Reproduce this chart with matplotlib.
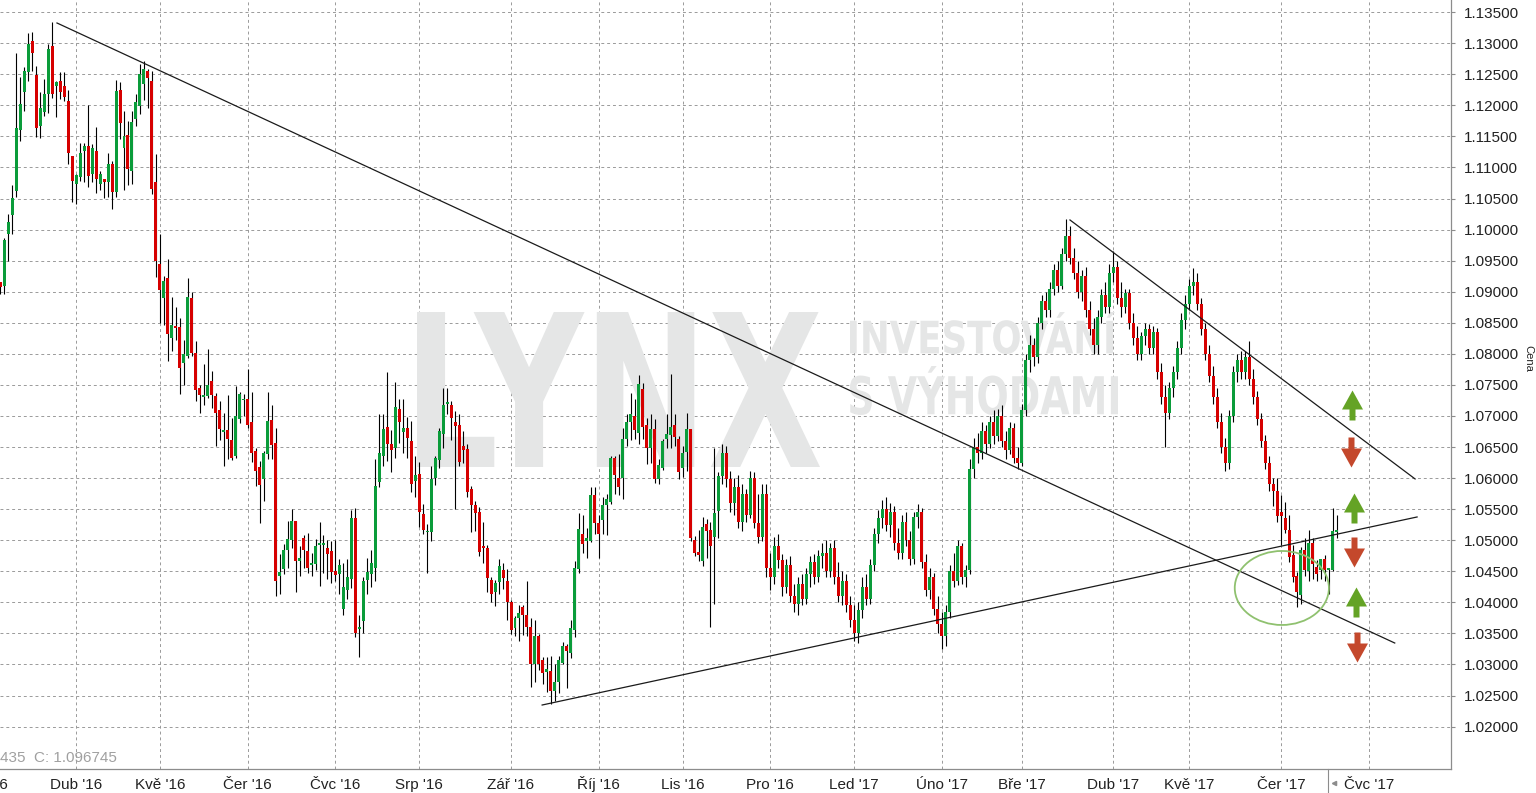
import numpy as np
import matplotlib
matplotlib.use("Agg")
import matplotlib.pyplot as plt
from matplotlib.path import Path
from matplotlib.patches import Ellipse, PathPatch
from matplotlib.textpath import TextPath
from matplotlib.font_manager import FontProperties
from matplotlib.transforms import Affine2D
from matplotlib.lines import Line2D

# daily candles (index 0 = first visible day)
opens = [
    1.0915, 1.0910, 1.0993, 1.1023, 1.1062, 1.1160, 1.1222, 1.1254, 1.1303, 1.1249,
    1.1166, 1.1190, 1.1219, 1.1295, 1.1231, 1.1239, 1.1231, 1.1207, 1.1119, 1.1074,
    1.1084, 1.1127, 1.1135, 1.1089, 1.1127, 1.1074, 1.1082, 1.1076, 1.1105, 1.1060,
    1.1225, 1.1131, 1.1153, 1.1095, 1.1178, 1.1199, 1.1234, 1.1255, 1.1239, 1.1076,
    1.0945, 1.0890, 1.0922, 1.0825, 1.0845, 1.0843, 1.0785, 1.0797, 1.0890, 1.0802,
    1.0745, 1.0730, 1.0732, 1.0757, 1.0732, 1.0710, 1.0674, 1.0677, 1.0661, 1.0635,
    1.0695, 1.0725, 1.0728, 1.0690, 1.0643, 1.0618, 1.0599, 1.0638, 1.0694, 1.0656,
    1.0443, 1.0454, 1.0484, 1.0500, 1.0531, 1.0467, 1.0503, 1.0482, 1.0460, 1.0461,
    1.0492, 1.0492, 1.0488, 1.0483, 1.0451, 1.0445, 1.0390, 1.0420, 1.0437, 1.0535,
    1.0357, 1.0370, 1.0436, 1.0446, 1.0456, 1.0593, 1.0635, 1.0683, 1.0655, 1.0649,
    1.0712, 1.0674, 1.0681, 1.0660, 1.0596, 1.0606, 1.0542, 1.0513, 1.0514, 1.0600,
    1.0629, 1.0671, 1.0720, 1.0717, 1.0691, 1.0686, 1.0651, 1.0647, 1.0582, 1.0557,
    1.0545, 1.0490, 1.0487, 1.0436, 1.0416, 1.0432, 1.0452, 1.0435, 1.0400, 1.0359,
    1.0374, 1.0392, 1.0380, 1.0361, 1.0301, 1.0345, 1.0307, 1.0288, 1.0290, 1.0257,
    1.0271, 1.0302, 1.0329, 1.0319, 1.0356, 1.0453, 1.0510, 1.0499, 1.0499, 1.0572,
    1.0527, 1.0532, 1.0556, 1.0561, 1.0632, 1.0600, 1.0600, 1.0663, 1.0690, 1.0700,
    1.0673, 1.0743, 1.0685, 1.0649, 1.0679, 1.0599, 1.0617, 1.0663, 1.0670, 1.0685,
    1.0663, 1.0616, 1.0642, 1.0679, 1.0501, 1.0481, 1.0467, 1.0526, 1.0517, 1.0505,
    1.0547, 1.0603, 1.0640, 1.0598, 1.0560, 1.0585, 1.0530, 1.0575, 1.0540, 1.0600,
    1.0528, 1.0505, 1.0575, 1.0455, 1.0440, 1.0490, 1.0468, 1.0425, 1.0460, 1.0410,
    1.0398, 1.0430, 1.0405, 1.0445, 1.0465, 1.0440, 1.0475, 1.0480, 1.0450, 1.0488,
    1.0440, 1.0410, 1.0435, 1.0395, 1.0372, 1.0350, 1.0388, 1.0425, 1.0405, 1.0460,
    1.0510, 1.0535, 1.0550, 1.0525, 1.0545, 1.0495, 1.0480, 1.0530, 1.0500, 1.0470,
    1.0538, 1.0545, 1.0465, 1.0420, 1.0440, 1.0390, 1.0365, 1.0345, 1.0385, 1.0450,
    1.0435, 1.0490, 1.0440, 1.0452, 1.0615, 1.0650, 1.0640, 1.0675, 1.0655, 1.0690,
    1.0668, 1.0700, 1.0660, 1.0645, 1.0680, 1.0632, 1.0625, 1.0710, 1.0790, 1.0815,
    1.0795, 1.0850, 1.0885, 1.0870, 1.0905, 1.0935, 1.0910, 1.0960, 1.0990, 1.0955,
    1.0930, 1.0900, 1.0925, 1.0870, 1.0840, 1.0815, 1.0860, 1.0895, 1.0875, 1.0930,
    1.0940, 1.0890, 1.0875, 1.0898, 1.0850, 1.0825, 1.0800, 1.0828, 1.0840, 1.0810,
    1.0835, 1.0770, 1.0730, 1.0705, 1.0745, 1.0770, 1.0810, 1.0855, 1.0880, 1.0910,
    1.0915, 1.0880, 1.0840, 1.0800, 1.0765, 1.0730, 1.0690, 1.0650, 1.0625, 1.0700,
    1.0770, 1.0790, 1.0770, 1.0795, 1.0760, 1.0730, 1.0695, 1.0660, 1.0625, 1.0590,
    1.0580, 1.0545, 1.0536, 1.0516, 1.0476, 1.0443, 1.0411, 1.0484, 1.0450, 1.0496,
    1.0457, 1.0452, 1.0470, 1.0452, 1.0452, 1.0513,
]
highs = [
    1.0915, 1.0987, 1.1025, 1.1071, 1.1285, 1.1245, 1.1262, 1.1317, 1.1318, 1.1263,
    1.1221, 1.1242, 1.1298, 1.1334, 1.1239, 1.1253, 1.1253, 1.1224, 1.1119, 1.1089,
    1.1140, 1.1140, 1.1201, 1.1137, 1.1165, 1.1095, 1.1082, 1.1124, 1.1111, 1.1241,
    1.1237, 1.1191, 1.1175, 1.1191, 1.1218, 1.1267, 1.1271, 1.1258, 1.1255, 1.1121,
    1.0993, 1.0925, 1.0952, 1.0891, 1.0875, 1.0857, 1.0823, 1.0922, 1.0899, 1.0820,
    1.0750, 1.0784, 1.0807, 1.0772, 1.0737, 1.0724, 1.0705, 1.0734, 1.0697, 1.0748,
    1.0738, 1.0736, 1.0776, 1.0739, 1.0649, 1.0627, 1.0643, 1.0739, 1.0717, 1.0681,
    1.0478, 1.0494, 1.0531, 1.0550, 1.0531, 1.0491, 1.0509, 1.0511, 1.0480, 1.0502,
    1.0529, 1.0508, 1.0501, 1.0499, 1.0500, 1.0470, 1.0463, 1.0470, 1.0548, 1.0552,
    1.0379, 1.0440, 1.0472, 1.0485, 1.0631, 1.0703, 1.0703, 1.0771, 1.0678, 1.0755,
    1.0728, 1.0728, 1.0699, 1.0692, 1.0636, 1.0626, 1.0558, 1.0526, 1.0619, 1.0636,
    1.0681, 1.0745, 1.0745, 1.0724, 1.0708, 1.0703, 1.0676, 1.0655, 1.0588, 1.0563,
    1.0554, 1.0529, 1.0492, 1.0440, 1.0436, 1.0469, 1.0464, 1.0454, 1.0403, 1.0378,
    1.0395, 1.0395, 1.0435, 1.0375, 1.0371, 1.0349, 1.0312, 1.0312, 1.0314, 1.0301,
    1.0313, 1.0336, 1.0333, 1.0372, 1.0467, 1.0543, 1.0540, 1.0519, 1.0585, 1.0585,
    1.0540, 1.0570, 1.0574, 1.0635, 1.0636, 1.0639, 1.0681, 1.0703, 1.0737, 1.0728,
    1.0766, 1.0753, 1.0697, 1.0703, 1.0695, 1.0631, 1.0663, 1.0703, 1.0768, 1.0703,
    1.0668, 1.0651, 1.0704, 1.0679, 1.0507, 1.0516, 1.0537, 1.0534, 1.0529, 1.0649,
    1.0609, 1.0655, 1.0652, 1.0612, 1.0600, 1.0605, 1.0590, 1.0582, 1.0612, 1.0610,
    1.0575, 1.0590, 1.0590, 1.0480, 1.0505, 1.0510, 1.0478, 1.0470, 1.0475, 1.0430,
    1.0440, 1.0445, 1.0455, 1.0475, 1.0478, 1.0485, 1.0495, 1.0500, 1.0495, 1.0500,
    1.0465, 1.0450, 1.0445, 1.0410, 1.0395, 1.0400, 1.0440, 1.0445, 1.0470, 1.0520,
    1.0548, 1.0565, 1.0570, 1.0560, 1.0555, 1.0520, 1.0540, 1.0545, 1.0515, 1.0545,
    1.0558, 1.0552, 1.0478, 1.0455, 1.0448, 1.0410, 1.0385, 1.0395, 1.0460, 1.0480,
    1.0500, 1.0495, 1.0460, 1.0630, 1.0665, 1.0672, 1.0690, 1.0685, 1.0700, 1.0710,
    1.0712, 1.0718, 1.0675, 1.0690, 1.0688, 1.0650, 1.0720, 1.0800, 1.0830, 1.0825,
    1.0860, 1.0895, 1.0900, 1.0915, 1.0945, 1.0950, 1.0970, 1.1017, 1.1005, 1.0970,
    1.0950, 1.0935, 1.0940, 1.0885, 1.0858, 1.0870, 1.0905, 1.0915, 1.0945, 1.0965,
    1.0950, 1.0915, 1.0905, 1.0905, 1.0865, 1.0845, 1.0835, 1.0850, 1.0848, 1.0845,
    1.0842, 1.0785, 1.0750, 1.0755, 1.0780, 1.0820, 1.0865, 1.0895, 1.0920, 1.0938,
    1.0930, 1.0890, 1.0850, 1.0815, 1.0780, 1.0745, 1.0705, 1.0665, 1.0710, 1.0780,
    1.0800, 1.0805, 1.0805, 1.0820, 1.0775, 1.0740, 1.0705, 1.0670, 1.0635, 1.0600,
    1.0600, 1.0573, 1.0562, 1.0540, 1.0492, 1.0449, 1.0489, 1.0503, 1.0516, 1.0503,
    1.0468, 1.0470, 1.0476, 1.0455, 1.0552, 1.0540,
]
lows = [
    1.0897, 1.0897, 1.0950, 1.0993, 1.1052, 1.1143, 1.1191, 1.1239, 1.1255, 1.1149,
    1.1148, 1.1183, 1.1188, 1.1212, 1.1181, 1.1210, 1.1207, 1.1106, 1.1044, 1.1042,
    1.1079, 1.1076, 1.1069, 1.1076, 1.1059, 1.1063, 1.1051, 1.1052, 1.1033, 1.1052,
    1.1146, 1.1064, 1.1071, 1.1074, 1.1167, 1.1186, 1.1209, 1.1196, 1.1057, 1.0924,
    1.0849, 1.0846, 1.0789, 1.0804, 1.0822, 1.0735, 1.0750, 1.0793, 1.0796, 1.0724,
    1.0705, 1.0718, 1.0729, 1.0713, 1.0651, 1.0662, 1.0619, 1.0631, 1.0629, 1.0633,
    1.0689, 1.0700, 1.0681, 1.0626, 1.0587, 1.0527, 1.0563, 1.0630, 1.0631, 1.0410,
    1.0413, 1.0445, 1.0456, 1.0488, 1.0416, 1.0442, 1.0456, 1.0448, 1.0443, 1.0452,
    1.0427, 1.0448, 1.0437, 1.0431, 1.0435, 1.0413, 1.0380, 1.0405, 1.0423, 1.0344,
    1.0312, 1.0351, 1.0414, 1.0424, 1.0435, 1.0585, 1.0620, 1.0628, 1.0610, 1.0633,
    1.0656, 1.0641, 1.0632, 1.0578, 1.0569, 1.0521, 1.0510, 1.0448, 1.0499, 1.0589,
    1.0617, 1.0649, 1.0703, 1.0661, 1.0550, 1.0619, 1.0625, 1.0569, 1.0513, 1.0515,
    1.0475, 1.0464, 1.0416, 1.0400, 1.0394, 1.0414, 1.0422, 1.0371, 1.0349, 1.0346,
    1.0338, 1.0348, 1.0345, 1.0264, 1.0272, 1.0291, 1.0269, 1.0256, 1.0236, 1.0241,
    1.0254, 1.0301, 1.0262, 1.0311, 1.0344, 1.0448, 1.0480, 1.0471, 1.0497, 1.0510,
    1.0471, 1.0510, 1.0509, 1.0559, 1.0575, 1.0572, 1.0567, 1.0651, 1.0661, 1.0663,
    1.0655, 1.0663, 1.0623, 1.0624, 1.0592, 1.0590, 1.0613, 1.0649, 1.0649, 1.0651,
    1.0598, 1.0601, 1.0612, 1.0499, 1.0475, 1.0467, 1.0458, 1.0471, 1.0361, 1.0397,
    1.0504, 1.0590, 1.0585, 1.0545, 1.0540, 1.0520, 1.0515, 1.0530, 1.0535, 1.0520,
    1.0495, 1.0498, 1.0440, 1.0420, 1.0430, 1.0455, 1.0410, 1.0415, 1.0400, 1.0385,
    1.0380, 1.0395, 1.0398, 1.0425, 1.0430, 1.0432, 1.0455, 1.0440, 1.0440, 1.0430,
    1.0400, 1.0395, 1.0385, 1.0360, 1.0338, 1.0335, 1.0375, 1.0395, 1.0398, 1.0450,
    1.0495, 1.0520, 1.0515, 1.0505, 1.0485, 1.0470, 1.0470, 1.0490, 1.0460, 1.0462,
    1.0520, 1.0455, 1.0410, 1.0405, 1.0380, 1.0350, 1.0325, 1.0330, 1.0375, 1.0425,
    1.0428, 1.0430, 1.0425, 1.0445, 1.0600, 1.0625, 1.0630, 1.0640, 1.0648, 1.0655,
    1.0660, 1.0650, 1.0630, 1.0638, 1.0625, 1.0615, 1.0620, 1.0700, 1.0770, 1.0780,
    1.0785, 1.0840, 1.0860, 1.0860, 1.0895, 1.0900, 1.0905, 1.0950, 1.0945, 1.0920,
    1.0890, 1.0885, 1.0860, 1.0830, 1.0800, 1.0800, 1.0850, 1.0865, 1.0865, 1.0915,
    1.0880, 1.0860, 1.0865, 1.0840, 1.0815, 1.0790, 1.0790, 1.0815, 1.0800, 1.0800,
    1.0760, 1.0720, 1.0650, 1.0695, 1.0730, 1.0760, 1.0800, 1.0840, 1.0870, 1.0895,
    1.0870, 1.0830, 1.0790, 1.0755, 1.0720, 1.0680, 1.0640, 1.0612, 1.0615, 1.0690,
    1.0755, 1.0760, 1.0760, 1.0750, 1.0720, 1.0685, 1.0650, 1.0615, 1.0580, 1.0555,
    1.0529, 1.0492, 1.0511, 1.0465, 1.0433, 1.0392, 1.0398, 1.0443, 1.0435, 1.0438,
    1.0435, 1.0438, 1.0435, 1.0414, 1.0450, 1.0503,
]
closes = [
    1.0908, 1.0984, 1.1012, 1.1051, 1.1163, 1.1202, 1.1255, 1.1299, 1.1284, 1.1164,
    1.1195, 1.1218, 1.1290, 1.1219, 1.1238, 1.1222, 1.1213, 1.1124, 1.1079, 1.1088,
    1.1123, 1.1135, 1.1087, 1.1131, 1.1081, 1.1089, 1.1076, 1.1106, 1.1060, 1.1223,
    1.1171, 1.1151, 1.1097, 1.1174, 1.1206, 1.1250, 1.1258, 1.1244, 1.1065, 1.0950,
    1.0902, 1.0918, 1.0832, 1.0846, 1.0842, 1.0778, 1.0799, 1.0891, 1.0802, 1.0741,
    1.0734, 1.0734, 1.0750, 1.0733, 1.0705, 1.0679, 1.0677, 1.0663, 1.0632, 1.0700,
    1.0736, 1.0727, 1.0685, 1.0640, 1.0611, 1.0589, 1.0640, 1.0692, 1.0654, 1.0435,
    1.0449, 1.0484, 1.0502, 1.0531, 1.0467, 1.0471, 1.0484, 1.0456, 1.0464, 1.0491,
    1.0496, 1.0496, 1.0477, 1.0449, 1.0444, 1.0460, 1.0424, 1.0440, 1.0535, 1.0350,
    1.0360, 1.0435, 1.0449, 1.0463, 1.0588, 1.0640, 1.0679, 1.0655, 1.0646, 1.0715,
    1.0691, 1.0680, 1.0664, 1.0591, 1.0605, 1.0545, 1.0517, 1.0514, 1.0599, 1.0633,
    1.0676, 1.0717, 1.0723, 1.0697, 1.0684, 1.0626, 1.0645, 1.0578, 1.0557, 1.0543,
    1.0481, 1.0487, 1.0439, 1.0414, 1.0431, 1.0458, 1.0439, 1.0400, 1.0355, 1.0374,
    1.0383, 1.0379, 1.0361, 1.0301, 1.0345, 1.0301, 1.0287, 1.0292, 1.0258, 1.0271,
    1.0307, 1.0329, 1.0322, 1.0359, 1.0456, 1.0518, 1.0494, 1.0504, 1.0573, 1.0528,
    1.0510, 1.0556, 1.0566, 1.0632, 1.0605, 1.0586, 1.0663, 1.0690, 1.0703, 1.0677,
    1.0751, 1.0683, 1.0648, 1.0679, 1.0599, 1.0621, 1.0660, 1.0671, 1.0682, 1.0666,
    1.0609, 1.0640, 1.0679, 1.0503, 1.0480, 1.0476, 1.0521, 1.0515, 1.0491, 1.0544,
    1.0603, 1.0640, 1.0598, 1.0560, 1.0585, 1.0530, 1.0575, 1.0540, 1.0600, 1.0528,
    1.0505, 1.0575, 1.0455, 1.0440, 1.0490, 1.0468, 1.0425, 1.0460, 1.0410, 1.0398,
    1.0430, 1.0405, 1.0445, 1.0465, 1.0440, 1.0475, 1.0480, 1.0450, 1.0488, 1.0440,
    1.0410, 1.0435, 1.0395, 1.0372, 1.0350, 1.0388, 1.0425, 1.0405, 1.0460, 1.0510,
    1.0535, 1.0550, 1.0525, 1.0545, 1.0495, 1.0480, 1.0530, 1.0500, 1.0470, 1.0538,
    1.0545, 1.0465, 1.0420, 1.0440, 1.0390, 1.0365, 1.0345, 1.0385, 1.0450, 1.0435,
    1.0490, 1.0440, 1.0452, 1.0615, 1.0650, 1.0640, 1.0675, 1.0655, 1.0690, 1.0668,
    1.0700, 1.0660, 1.0645, 1.0680, 1.0632, 1.0625, 1.0710, 1.0790, 1.0815, 1.0795,
    1.0850, 1.0885, 1.0870, 1.0905, 1.0935, 1.0910, 1.0960, 1.0990, 1.0955, 1.0930,
    1.0900, 1.0925, 1.0870, 1.0840, 1.0815, 1.0860, 1.0895, 1.0875, 1.0930, 1.0940,
    1.0890, 1.0875, 1.0898, 1.0850, 1.0825, 1.0800, 1.0828, 1.0840, 1.0810, 1.0835,
    1.0770, 1.0730, 1.0705, 1.0745, 1.0770, 1.0810, 1.0855, 1.0880, 1.0910, 1.0915,
    1.0880, 1.0840, 1.0800, 1.0765, 1.0730, 1.0690, 1.0650, 1.0625, 1.0700, 1.0770,
    1.0790, 1.0770, 1.0795, 1.0760, 1.0730, 1.0695, 1.0660, 1.0625, 1.0590, 1.0580,
    1.0539, 1.0539, 1.0516, 1.0473, 1.0441, 1.0417, 1.0484, 1.0452, 1.0495, 1.0461,
    1.0445, 1.0469, 1.0452, 1.0455, 1.0515, 1.0516,
]

# month axis
month_labels = ["Dub '16", "Kvě '16", "Čer '16", "Čvc '16", "Srp '16", "Zář '16",
                "Říj '16", "Lis '16", "Pro '16", "Led '17", "Úno '17", "Bře '17",
                "Dub '17", "Kvě '17", "Čer '17", "Čvc '17"]
days_before_april = 19
trading_days = [21, 22, 22, 21, 23, 22, 21, 22, 21, 22, 20, 23, 19, 23, 22]

# drawn trend lines: (day, price) pairs
trend_lines = [
    [(14.2, 1.13326), (349.5, 1.03345)],
    [(135.8, 1.02347), (355.1, 1.05374)],
    [(268.1, 1.10155), (354.6, 1.05986)],
]
circle_center = (321.2, 1.04231)
circle_size = (23.6, 0.01191)
up_arrows_x = [338.8, 339.3, 339.8]
up_arrows_y = [1.07177, 1.05519, 1.04006]
down_arrows_x = [338.6, 339.4, 340.0]
down_arrows_y = [1.06420, 1.04811, 1.03281]

GREEN = "#0a9c3a"
RED = "#d60000"
GRID = "#9a9a9a"
W, H = 1536, 793

fig = plt.figure(figsize=(W / 100, H / 100), dpi=100)
ax = fig.add_axes([0, 24 / H, 1451 / W, 769 / H])

o = np.array(opens)
hi = np.array(highs)
lo = np.array(lows)
c = np.array(closes)
idx = np.arange(len(c))
up = c >= o

# watermark
def stretched_text(s, box, color):
    x0, y0, x1, y1 = box
    tp = TextPath((0, 0), s, size=100,
                  prop=FontProperties(family="DejaVu Sans", weight="bold"))
    bb = tp.get_extents()
    tr = (Affine2D().translate(-bb.x0, -bb.y0)
          .scale((x1 - x0) / bb.width, (y1 - y0) / bb.height)
          .translate(x0, H - y1))
    ax.add_patch(PathPatch(tp, transform=tr, facecolor=color, lw=0, zorder=1))

stretched_text("LYNX", (417, 312, 820, 467), "#e5e6e6")
stretched_text("INVESTOVÁNÍ", (850, 312, 1115, 354), "#e5e6e6")
stretched_text("S VÝHODAMI", (850, 366, 1118, 415), "#e5e6e6")

ax.vlines(idx, lo, hi, color="black", lw=0.8, zorder=3)
body_lo = np.minimum(o, c)
body_h = np.maximum(np.abs(c - o), 0.00022)
ax.bar(idx[up], body_h[up], bottom=body_lo[up], width=0.75, color=GREEN, lw=0, zorder=4)
ax.bar(idx[~up], body_h[~up], bottom=body_lo[~up], width=0.75, color=RED, lw=0, zorder=4)

for (xa, ya), (xb, yb) in trend_lines:
    ax.plot([xa, xb], [ya, yb], color="#1a1a1a", lw=0.9, zorder=5)

ax.add_patch(Ellipse(circle_center, circle_size[0], circle_size[1], fill=False,
                     edgecolor="#8fc16f", lw=1.3, zorder=5))

arrow_verts = [(0, 15), (10.5, -4), (3, -4), (3, -15), (-3, -15), (-3, -4), (-10.5, -4), (0, 15)]
arrow_up = Path(arrow_verts, closed=True)
arrow_down = Path([(x, -y) for x, y in arrow_verts], closed=True)
ax.plot(up_arrows_x, up_arrows_y, ls="none", marker=arrow_up, ms=21.6,
        mfc="#64a325", mec="none", zorder=6)
ax.plot(down_arrows_x, down_arrows_y, ls="none", marker=arrow_down, ms=21.6,
        mfc="#c4482c", mec="none", zorder=6)

month_ticks = days_before_april + np.concatenate([[0], np.cumsum(trading_days)])
ax.set_xticks(month_ticks)
ax.set_xticklabels(month_labels)
ax.set_yticks(np.arange(1.02, 1.1351, 0.005))
ax.yaxis.set_major_formatter("{x:.5f}")
ax.yaxis.tick_right()
ax.set_xlim(-0.08, 363.6)
ax.set_ylim(1.01317, 1.13696)

ax.grid(True, color=GRID, lw=0.7, ls=(0, (3, 3)))
ax.set_axisbelow(True)
for s in ["top", "left"]:
    ax.spines[s].set_visible(False)
for s in ["right", "bottom"]:
    ax.spines[s].set_color("#8c8c8c")
    ax.spines[s].set_linewidth(0.9)

ax.tick_params(axis="y", right=True, length=3, color="#8c8c8c", labelsize=11,
               pad=6, labelfontfamily="Liberation Sans", labelcolor="#222222")
ax.tick_params(axis="x", length=0, labelsize=11, pad=14.4,
               labelfontfamily="Liberation Sans", labelcolor="#222222")
for lab in ax.get_xticklabels():
    lab.set_verticalalignment("baseline")

# month label cut off at the left edge
ax.text(days_before_april - 23, -0.026, "Bře '16", transform=ax.get_xaxis_transform(),
        ha="center", va="baseline", fontsize=11, family="Liberation Sans",
        color="#222222", clip_on=False)

ax.text(0.0, 0.0143, "435  C: 1.096745", transform=ax.transAxes, ha="left", va="center",
        fontsize=11, family="Liberation Sans", color="#a0a0a0")

fig.text(1528 / W, 1 - 358 / H, "Cena", rotation=270, ha="center", va="center",
         fontsize=8, family="Liberation Sans", color="#222222")
fig.add_artist(Line2D([1328 / W, 1328 / W], [0, 24 / H], color="#8c8c8c", lw=0.8))
fig.add_artist(Line2D([1334 / W], [10 / H], marker="<", ms=3, color="#8c8c8c"))

fig.savefig("out.png", dpi=100, facecolor="white")
